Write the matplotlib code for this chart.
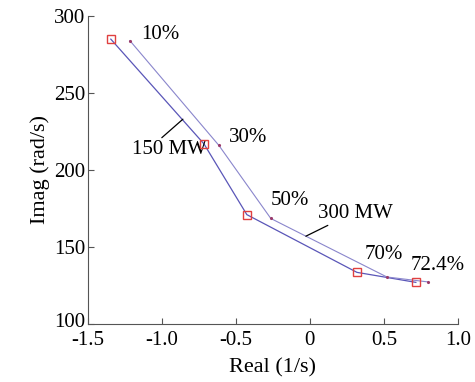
import matplotlib.pyplot as plt
from matplotlib.transforms import ScaledTranslation

plt.rcParams['font.family'] = ['Liberation Serif', 'DejaVu Serif']

# root locus points, 150 MW and 300 MW loading
re_150 = [-1.345, -0.716, -0.426, 0.318, 0.716]
im_150 = [285.0, 217.0, 171.0, 133.5, 127.0]
re_300 = [-1.216, -0.615, -0.264, 0.52, 0.797]
im_300 = [284.0, 216.0, 168.5, 130.5, 127.3]

pct_labels = ['10%', '30%', '50%', '70%', '72.4%']
pct_pos = [(-1.014, 288), (-0.419, 221), (-0.135, 180.5), (0.5, 145), (0.865, 138)]

fig = plt.figure(figsize=(4.75, 3.82), dpi=100)
ax = fig.add_axes([0.185, 0.152, 0.779, 0.806])

ax.plot(re_150, im_150, color='#5a56b8', lw=0.9)
ax.plot(re_300, im_300, color='#8a86cc', lw=0.8, marker='.', ms=2.5,
        mfc='#9a3a6a', mec='#9a3a6a')
ax.plot(re_150, im_150, ls='none', marker='s', ms=5.5, mfc='none',
        mec='#e04040', mew=1.0, zorder=5)

for s, (x, y) in zip(pct_labels, pct_pos):
    ax.text(x, y, s, fontsize=15, ha='center', va='center')

ax.annotate('150 MW', xy=(-0.858, 233), xytext=(-0.946, 213), fontsize=15,
            ha='center', va='center',
            arrowprops=dict(arrowstyle='-', color='black', lw=0.9,
                            shrinkA=0, shrinkB=0, relpos=(0.35, 1.0)))
ax.annotate('300 MW', xy=(-0.027, 157), xytext=(0.311, 172), fontsize=15,
            ha='center', va='center',
            arrowprops=dict(arrowstyle='-', color='black', lw=0.9,
                            shrinkA=0, shrinkB=0, relpos=(0.2, 0.0)))

ax.set_xlim(-1.5, 1.0)
ax.set_ylim(100, 300)
ax.set_xticks([-1.5, -1.0, -0.5, 0, 0.5, 1.0])
ax.set_xticklabels(['-1.5', '-1.0', '-0.5', '0', '0.5', '1.0'])
ax.set_yticks([100, 150, 200, 250, 300])
ax.set_xlabel('Real (1/s)', fontsize=16, labelpad=6)
ax.set_ylabel('Imag (rad/s)', fontsize=16, labelpad=3)

for side in ['top', 'right']:
    ax.spines[side].set_visible(False)
for side in ['left', 'bottom']:
    ax.spines[side].set_color('#555555')
ax.tick_params(direction='in', length=4, color='#555555', labelsize=15)
ax.tick_params(axis='x', pad=5)
ax.tick_params(axis='y', pad=2)

# lift the 100 label a little so it clears -1.5
lbl = ax.get_yticklabels()[0]
lbl.set_transform(lbl.get_transform() +
                  ScaledTranslation(0, 3 / 72, fig.dpi_scale_trans))

fig.savefig('out.png', dpi=100)
